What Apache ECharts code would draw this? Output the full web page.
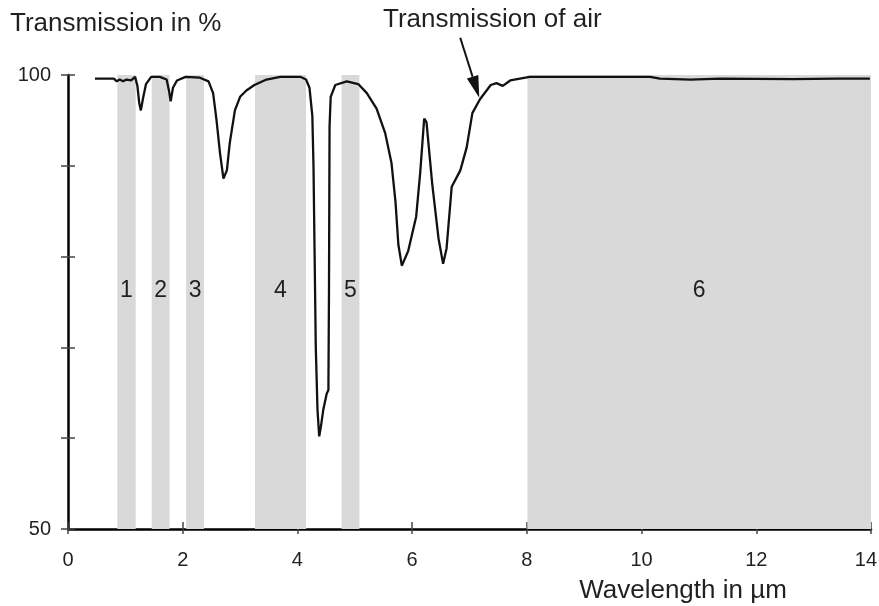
<!DOCTYPE html>
<html>
<head>
<meta charset="utf-8">
<script src="https://cdn.jsdelivr.net/npm/echarts@6/dist/echarts.min.js"></script>
<style>
  html, body { margin: 0; padding: 0; background: #fff; }
  #chart { width: 879px; height: 606px; }
</style>
</head>
<body>
<div id="chart"></div>
<script>
// wavelength in µm and transmission in %
const wavelength = [
  0.47, 0.8, 0.85, 0.9, 0.96, 1.02, 1.1, 1.17, 1.21, 1.24, 1.27, 1.31, 1.36, 1.45, 1.6,
  1.72, 1.76, 1.79, 1.83, 1.9, 2.05, 2.3, 2.45, 2.53, 2.59, 2.65, 2.71, 2.77, 2.82, 2.91,
  3.0, 3.11, 3.25, 3.46, 3.7, 4.05, 4.15, 4.21, 4.26, 4.28, 4.3, 4.32, 4.35, 4.38, 4.41,
  4.45, 4.51, 4.54, 4.55, 4.56, 4.58, 4.66, 4.86, 5.06, 5.21, 5.38, 5.53, 5.64, 5.71,
  5.76, 5.82, 5.93, 6.07, 6.14, 6.21, 6.25, 6.35, 6.46, 6.54, 6.6, 6.69, 6.84, 6.95,
  7.05, 7.18, 7.37, 7.47, 7.58, 7.71, 7.88, 8.05, 8.9, 10.15, 10.32, 10.85, 11.37,
  12.64, 13.4, 13.98
]
const transmission = [
  99.6, 99.6, 99.3, 99.5, 99.3, 99.5, 99.4, 99.8, 98.8, 97.0, 96.1, 97.5, 99.0, 99.8, 99.8,
  99.5, 98.3, 97.1, 98.6, 99.4, 99.8, 99.7, 99.3, 98.0, 95.0, 91.4, 88.6, 89.5, 92.5, 96.1,
  97.6, 98.3, 98.9, 99.5, 99.8, 99.8, 99.5, 98.6, 95.5, 90.0, 80.0, 70.0, 63.1, 60.2, 61.3,
  63.1, 64.9, 65.3, 76.0, 94.3, 97.6, 98.9, 99.3, 99.0, 98.0, 96.3, 93.6, 90.3, 86.0,
  81.3, 79.0, 80.6, 84.4, 89.2, 95.2, 94.8, 88.0, 82.0, 79.2, 80.9, 87.7, 89.5, 92.0,
  95.8, 97.3, 98.9, 99.1, 98.8, 99.4, 99.6, 99.8, 99.8, 99.8, 99.6, 99.5, 99.6,
  99.55, 99.6, 99.6
]

// atmospheric windows
const bandNames = ['1', '2', '3', '4', '5', '6']
const bandStart = [0.86, 1.46, 2.06, 3.26, 4.77, 8.01]
const bandEnd = [1.18, 1.77, 2.37, 4.15, 5.08, 14]

const yLabelValues = [100, 50]
const arrowTip = [7.17, 97.5]

const fontFamily = "'Liberation Sans', Arial, sans-serif"
const textColor = '#231f20'

const chart = echarts.init(document.getElementById('chart'))

const lineData = wavelength.map((w, i) => [w, transmission[i]])
const bandData = bandNames.map((name, i) => [
  { name: name, xAxis: bandStart[i] },
  { xAxis: bandEnd[i] }
])

const xBase = {
  type: 'value',
  min: 0,
  max: 14,
  interval: 2,
  position: 'bottom',
  splitLine: { show: false }
}
const yBase = {
  type: 'value',
  min: 50,
  max: 100,
  interval: 10,
  position: 'left',
  splitLine: { show: false }
}

chart.setOption({
  backgroundColor: '#fff',
  animation: false,
  grid: { left: 68, right: 8, top: 75, bottom: 77, outerBoundsMode: 'none', containLabel: false },
  xAxis: [
    Object.assign({}, xBase, {
      axisLine: { lineStyle: { color: '#000', width: 2.5 } },
      axisTick: { inside: true, length: 7, lineStyle: { color: '#444', width: 1.5 } },
      axisLabel: {
        fontSize: 20,
        color: textColor,
        fontFamily: fontFamily,
        margin: 21,
        alignMaxLabel: 'right',
        padding: [0, -6, 0, -6]
      }
    }),
    Object.assign({}, xBase, {
      axisLine: { show: false },
      axisTick: { inside: false, length: 5, lineStyle: { color: '#444', width: 1.5 } },
      axisLabel: { show: false }
    })
  ],
  yAxis: [
    Object.assign({}, yBase, {
      axisLine: { show: true, lineStyle: { color: '#000', width: 2.5 } },
      axisTick: { show: true, inside: true, length: 7, lineStyle: { color: '#444', width: 1.5 } },
      axisLabel: {
        fontSize: 20,
        color: textColor,
        fontFamily: fontFamily,
        margin: 17,
        formatter: v => (yLabelValues.includes(v) ? String(v) : '')
      }
    }),
    Object.assign({}, yBase, {
      axisLine: { show: false },
      axisTick: { show: true, inside: false, length: 7, lineStyle: { color: '#444', width: 1.5 } },
      axisLabel: { show: false }
    })
  ],
  series: [
    {
      type: 'line',
      data: [],
      z: 1,
      silent: true,
      markArea: {
        silent: true,
        itemStyle: { color: '#d9d9d9' },
        label: {
          show: true,
          position: ['50%', '47.4%'],
          align: 'center',
          verticalAlign: 'middle',
          fontSize: 23,
          color: textColor,
          fontFamily: fontFamily
        },
        data: bandData
      }
    },
    {
      name: 'Transmission of air',
      type: 'line',
      data: lineData,
      z: 3,
      showSymbol: false,
      smooth: false,
      lineStyle: { color: '#111', width: 2.3 }
    }
  ]
})

// labels and the arrow pointing at the curve
const tip = chart.convertToPixel({ gridIndex: 0 }, arrowTip)
const start = [tip[0] - 19, tip[1] - 60]
const dx = tip[0] - start[0]
const dy = tip[1] - start[1]
const len = Math.sqrt(dx * dx + dy * dy)
const ux = dx / len
const uy = dy / len
const headLen = 22
const headHalf = 6
const base = [tip[0] - ux * headLen, tip[1] - uy * headLen]

chart.setOption({
  graphic: [
    {
      type: 'text',
      left: 10,
      top: 11,
      style: { text: 'Transmission in %', fontSize: 26, fill: textColor, fontFamily: fontFamily }
    },
    {
      type: 'text',
      left: 383,
      top: 7,
      style: { text: 'Transmission of air', fontSize: 26, fill: textColor, fontFamily: fontFamily }
    },
    {
      type: 'text',
      x: 683,
      y: 591,
      style: {
        text: 'Wavelength in µm',
        fontSize: 26,
        fill: textColor,
        fontFamily: fontFamily,
        align: 'center',
        verticalAlign: 'middle'
      }
    },
    {
      type: 'line',
      shape: { x1: start[0], y1: start[1], x2: base[0], y2: base[1] },
      style: { stroke: '#111', lineWidth: 2 }
    },
    {
      type: 'polygon',
      shape: {
        points: [
          tip,
          [base[0] - uy * headHalf, base[1] + ux * headHalf],
          [base[0] + uy * headHalf, base[1] - ux * headHalf]
        ]
      },
      style: { fill: '#111' }
    }
  ]
})
</script>
</body>
</html>
